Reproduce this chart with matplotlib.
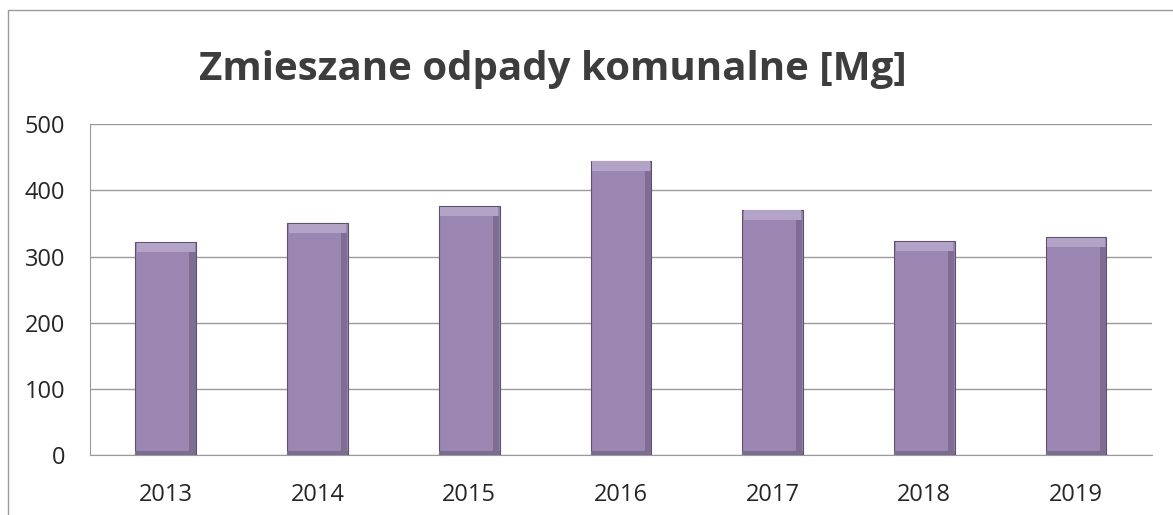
import matplotlib.pyplot as plt
from matplotlib.patches import Rectangle
import numpy as np

lata = ['2013', '2014', '2015', '2016', '2017', '2018', '2019']
odpady = [322, 351, 376, 445, 371, 323, 329]
y_ticks = [0, 100, 200, 300, 400, 500]

plt.rcParams['font.family'] = ['Open Sans', 'DejaVu Sans']

fig = plt.figure(figsize=(11.73, 5.15), dpi=100)
ax = fig.add_axes([0.0767, 0.1165, 0.9053, 0.6421])

x = np.arange(len(lata))
szer = 0.4
ax.bar(x, odpady, width=szer, color='#9a86b0', edgecolor='#5f506f', linewidth=0.8, zorder=3)
# jasniejszy "bevel" na gorze slupka i ciemniejszy prawy brzeg
for xi, v in zip(x, odpady):
    ax.bar(xi, 14, bottom=v - 15, width=szer * 0.95, color='#b3a3c6', linewidth=0, zorder=4)
    ax.bar(xi + szer * 0.44, v - 16, bottom=1, width=szer * 0.1, color='#7f6d93', linewidth=0, zorder=4)
    ax.bar(xi, 6, bottom=0, width=szer, color='#7d6b90', linewidth=0, zorder=4)

ax.set_xlim(-0.5, len(lata) - 0.5)
ax.set_ylim(0, 500)
ax.set_yticks(y_ticks)
ax.set_xticks(x)
ax.set_xticklabels(lata)
ax.tick_params(length=0, labelsize=17, colors='#262626')
ax.tick_params(axis='x', pad=20)
ax.tick_params(axis='y', pad=18)
ax.grid(axis='y', color='#9a9a9a', linewidth=1, zorder=0)
for s in ['top', 'right']:
    ax.spines[s].set_visible(False)
for s in ['left', 'bottom']:
    ax.spines[s].set_color('#9a9a9a')

fig.text(0.471, 0.866, 'Zmieszane odpady komunalne [Mg]', ha='center', va='center',
         fontsize=29, fontweight='bold', color='#3d3d3d')

# ramka wykresu
fig.patches.append(Rectangle((8 / 1173, -0.1), 1.2, 1 - 10 / 515 + 0.1, transform=fig.transFigure,
                             fill=False, edgecolor='#9a9a9a', linewidth=1))

fig.savefig('out.png', dpi=100)
